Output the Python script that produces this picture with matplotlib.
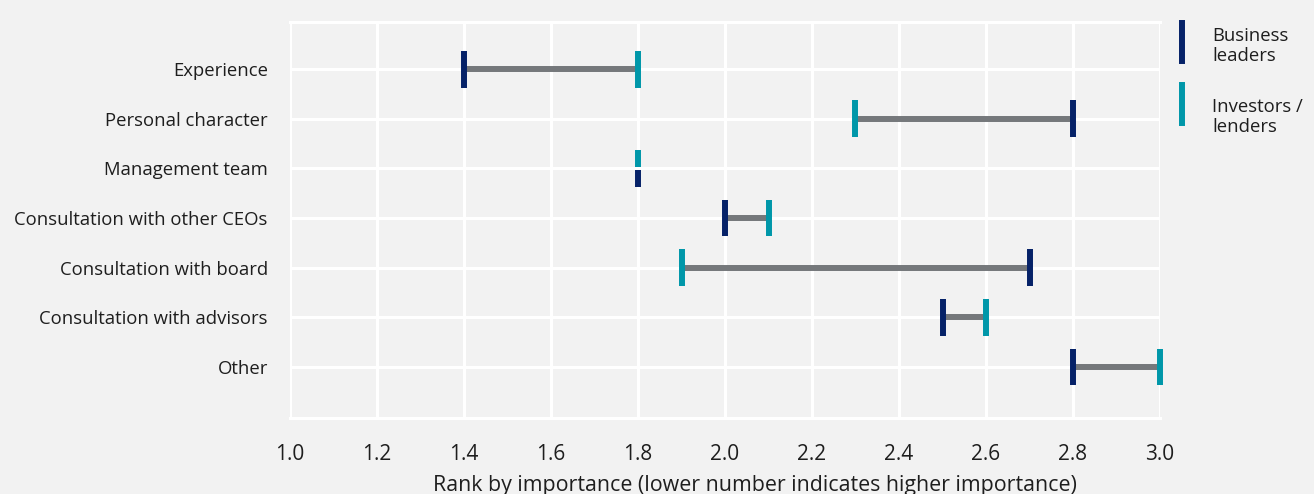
import matplotlib.pyplot as plt
from matplotlib.lines import Line2D

plt.rcParams['font.family'] = ['Open Sans', 'DejaVu Sans']

# rank by importance, per factor
factors = ['Experience', 'Personal character', 'Management team',
           'Consultation with other CEOs', 'Consultation with board',
           'Consultation with advisors', 'Other']
business = [1.4, 2.8, 1.8, 2.0, 2.7, 2.5, 2.8]
investors = [1.8, 2.3, 1.8, 2.1, 1.9, 2.6, 3.0]

NAVY = '#062268'
TEAL = '#0097a9'
GREY = '#75787b'
BG = '#f2f2f2'
TXT = '#1e1e1e'

fig = plt.figure(figsize=(13.14, 4.94), dpi=100, facecolor=BG)
ax = fig.add_axes([290/1314, 1-418/494, 870/1314, 396/494], facecolor=BG)

ys = list(range(len(factors)))
h = 0.37  # half height of the end caps

for y, b, i in zip(ys, business, investors):
    ax.plot([b, i], [y, y], color=GREY, lw=4.3, solid_capstyle='butt', zorder=3,
            clip_on=False)
    if b == i:
        # same score: stack the two caps
        ax.vlines(i, y - h, y - 0.03, color=TEAL, lw=4.3, zorder=4, clip_on=False)
        ax.vlines(b, y + 0.03, y + h, color=NAVY, lw=4.3, zorder=4, clip_on=False)
    else:
        ax.vlines(b, y - h, y + h, color=NAVY, lw=4.3, zorder=4, clip_on=False)
        ax.vlines(i, y - h, y + h, color=TEAL, lw=4.3, zorder=4, clip_on=False)

ax.set_xlim(1.0, 3.0)
ax.set_ylim(len(factors) - 1 + 1.03, -0.95)
ax.set_xticks([1.0 + 0.2 * k for k in range(11)])
ax.set_xticklabels(['%.1f' % (1.0 + 0.2 * k) for k in range(11)], fontsize=15, color=TXT)
ax.set_yticks(ys)
ax.set_yticklabels(factors, fontsize=13.3, color=TXT)
ax.tick_params(axis='both', length=0)
ax.tick_params(axis='y', pad=16)
ax.tick_params(axis='x', pad=19)

ax.grid(True, color='white', lw=2.2, zorder=0)
for s in ax.spines.values():
    s.set_color('white')
    s.set_linewidth(2.2)
ax.spines['left'].set_visible(False)
ax.spines['right'].set_visible(False)

ax.set_xlabel('Rank by importance (lower number indicates higher importance)',
              fontsize=15.4, color=TXT)
ax.xaxis.set_label_coords(0.534, -0.145)

# legend
fig.add_artist(Line2D([1182/1314, 1182/1314], [1-23/494, 1-61/494], color=NAVY, lw=4.3))
fig.add_artist(Line2D([1182/1314, 1182/1314], [1-85/494, 1-123/494], color=TEAL, lw=4.3))
fig.text(1212/1314, 1-27/494, 'Business\nleaders', fontsize=13.3, color=TXT,
         va='top', ha='left', linespacing=1.12)
fig.text(1212/1314, 1-98/494, 'Investors /\nlenders', fontsize=13.3, color=TXT,
         va='top', ha='left', linespacing=1.12)

fig.savefig('out.png', dpi=100, facecolor=BG)
